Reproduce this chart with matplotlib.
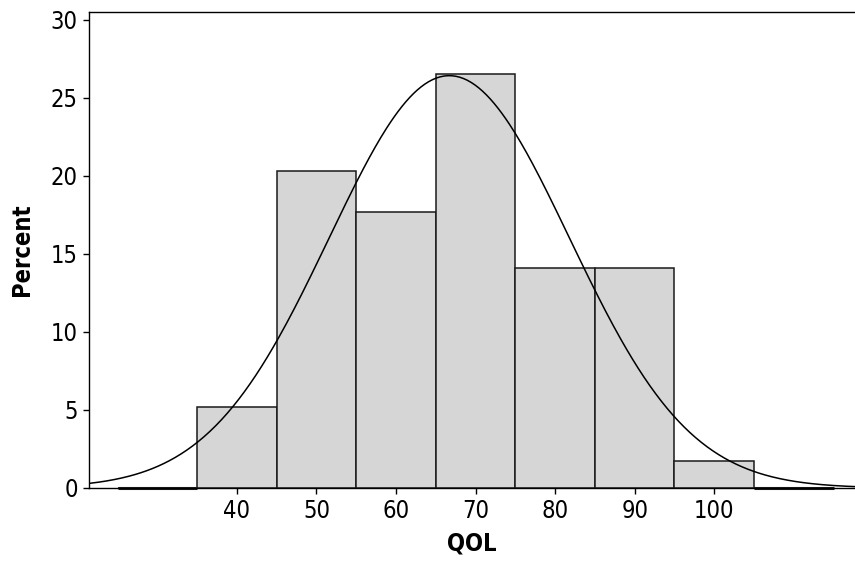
import numpy as np
import matplotlib.pyplot as plt

# histogram of QOL, bin width 10 (edges 25..115), percent per bin
bin_edges = [25, 35, 45, 55, 65, 75, 85, 95, 105, 115]
percents = [0.0, 5.2, 20.3, 17.7, 26.5, 14.1, 14.1, 1.7, 0.0]
# fitted normal curve parameters
fit_mean = 66.7
fit_sd = 15.1
xticks = [40, 50, 60, 70, 80, 90, 100]
yticks = [0, 5, 10, 15, 20, 25, 30]

plt.rcParams['font.family'] = 'DejaVu Sans'
plt.rcParams['font.stretch'] = 'condensed'

fig = plt.figure(figsize=(8.55, 5.65), dpi=100)
ax = fig.add_axes([0.104, 0.1363, 0.896, 0.8425])

width = np.diff(bin_edges)
ax.bar(bin_edges[:-1], percents, width=width, align='edge',
       facecolor='#d6d6d6', edgecolor='#1a1a1a', linewidth=1.1, zorder=2)
# empty end bins show as a heavier line along zero
for left, w, p in zip(bin_edges[:-1], width, percents):
    if p == 0:
        ax.plot([left, left + w], [0, 0], color='#1a1a1a', linewidth=2.2,
                solid_capstyle='butt', zorder=2, clip_on=False)

xlim = (21.4, 117.7)
xs = np.linspace(xlim[0], xlim[1], 400)
bw = width[0]
ys = 100 * bw / (fit_sd * np.sqrt(2 * np.pi)) * np.exp(-0.5 * ((xs - fit_mean) / fit_sd) ** 2)
ax.plot(xs, ys, color='black', linewidth=1.1, zorder=3)

ax.set_xlim(*xlim)
ax.set_ylim(0, 30.5)
ax.set_xticks(xticks)
ax.set_yticks(yticks)
ax.tick_params(direction='out', length=4, width=1, labelsize=17, pad=4)
for s in ['left', 'bottom', 'top']:
    ax.spines[s].set_linewidth(1.0)
ax.spines['right'].set_visible(False)

ax.set_xlabel('QOL', fontsize=17, fontweight='bold', labelpad=6)
ax.set_ylabel('Percent', fontsize=17, fontweight='bold', labelpad=12)

plt.savefig('out.png', dpi=100)
plt.close()
